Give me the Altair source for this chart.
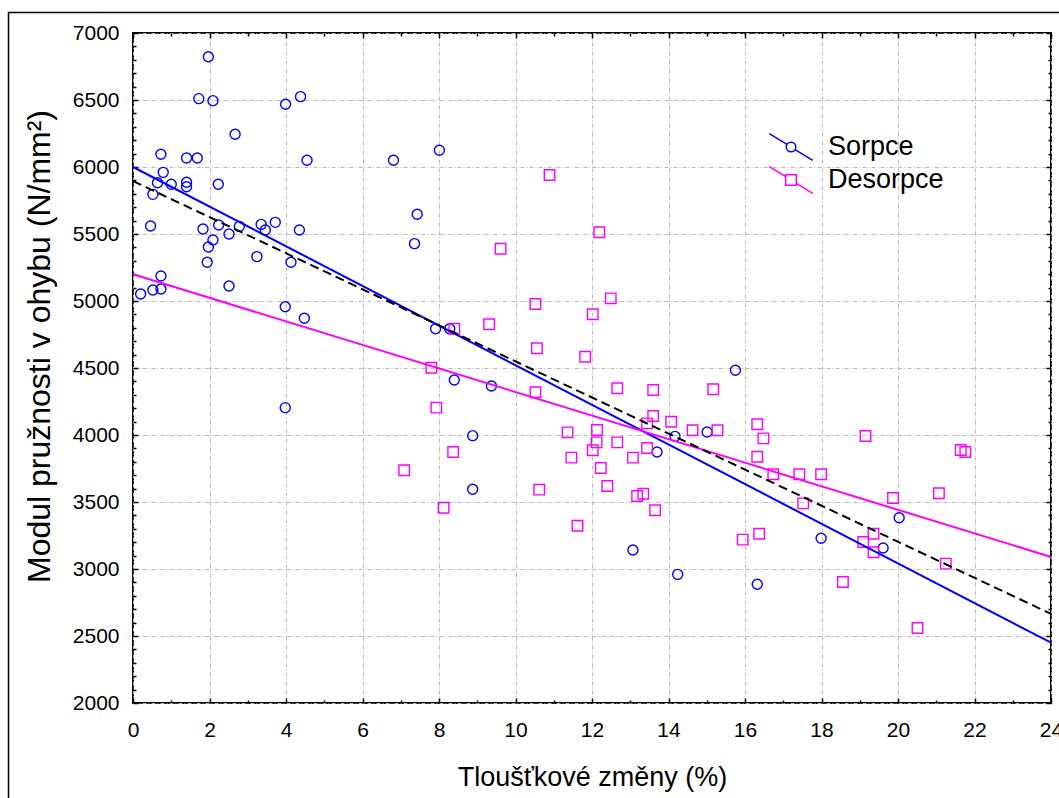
import altair as alt
import pandas as pd

# ---------------- data ----------------
series_names = ["Sorpce", "Desorpce"]

sorpce_x = [0.20, 0.52, 0.73, 0.73, 1.94, 3.24, 4.13, 2.51, 3.98, 4.48,
            7.91, 8.28, 8.40, 3.98, 8.88, 8.88, 1.97, 1.72, 2.09, 3.99,
            4.38, 2.67, 0.73, 1.40, 1.68, 4.55, 6.81, 8.01, 0.79, 0.64,
            1.00, 1.40, 1.40, 2.23, 0.52, 0.46, 1.83, 2.24, 2.78, 2.51,
            2.09, 1.97, 3.35, 3.46, 3.72, 4.35, 7.43, 7.36, 9.37, 15.75,
            13.70, 14.17, 15.01, 13.07, 14.24, 20.03, 17.99, 19.61, 16.32]
sorpce_y = [5052, 5082, 5090, 5187, 5289, 5331, 5289, 5112, 4957, 4871,
            4793, 4793, 4410, 4204, 3995, 3595, 6823, 6510, 6495, 6468,
            6525, 6244, 6095, 6067, 6067, 6050, 6050, 6125, 5960, 5883,
            5871, 5886, 5853, 5871, 5796, 5560, 5537, 5567, 5557, 5500,
            5455, 5403, 5572, 5530, 5587, 5530, 5647, 5428, 4366, 4483,
            3873, 3990, 4022, 3142, 2960, 3383, 3229, 3157, 2886]

desorpce_x = [8.40, 7.80, 7.93, 8.37, 7.09, 8.12, 10.89, 12.19, 9.61, 10.52,
              12.49, 12.02, 9.31, 10.56, 11.82, 10.52, 12.66, 13.60, 15.17, 11.36,
              12.13, 12.12, 12.02, 12.66, 11.46, 12.23, 12.40, 10.62, 11.62, 13.60,
              13.44, 14.07, 14.63, 15.28, 13.44, 13.07, 13.34, 13.18, 13.65, 16.32,
              16.48, 16.32, 19.15, 21.64, 21.76, 16.74, 17.42, 17.99, 17.52, 19.87,
              21.07, 15.94, 16.37, 19.09, 19.36, 19.36, 21.25, 18.56, 20.51]
desorpce_y = [4793, 4502, 4204, 3873, 3737, 3457, 5940, 5513, 5390, 4978,
              5020, 4901, 4826, 4647, 4584, 4319, 4349, 4336, 4341, 4020,
              4037, 3945, 3886, 3945, 3831, 3754, 3619, 3592, 3323, 4142,
              4087, 4099, 4035, 4035, 3903, 3831, 3562, 3545, 3438, 4080,
              3975, 3838, 3993, 3888, 3873, 3707, 3707, 3707, 3490, 3530,
              3565, 3219, 3263, 3201, 3263, 3125, 3040, 2903, 2560]

# fitted lines (end points)
fit_x = [0, 24]
sorpce_fit = [6000, 2450]
desorpce_fit = [5200, 3090]
all_fit = [5895, 2665]

# axis tick values
x_major = [0, 2, 4, 6, 8, 10, 12, 14, 16, 18, 20, 22, 24]
x_minor = [1, 3, 5, 7, 9, 11, 13, 15, 17, 19, 21, 23]
y_major = [2000, 2500, 3000, 3500, 4000, 4500, 5000, 5500, 6000, 6500, 7000]
y_minor = [v for v in range(2100, 7000, 100) if v % 500 != 0]

# ---------------- styling ----------------
FONT = "Liberation Sans"
BLUE = "#0000ff"
MAGENTA = "#ff00ff"
W, H = 918, 670

sorpce_df = pd.DataFrame({"x": sorpce_x, "y": sorpce_y, "series": "Sorpce"})
desorpce_df = pd.DataFrame({"x": desorpce_x, "y": desorpce_y, "series": "Desorpce"})
fit_s_df = pd.DataFrame({"x": fit_x, "y": sorpce_fit})
fit_d_df = pd.DataFrame({"x": fit_x, "y": desorpce_fit})
fit_a_df = pd.DataFrame({"x": fit_x, "y": all_fit})
legend_df = pd.DataFrame({"series": series_names})

xscale = alt.Scale(domain=[0, 24], nice=False, zero=False)
yscale = alt.Scale(domain=[2000, 7000], nice=False, zero=False)

tick_common = dict(domain=False, tickColor="black", tickWidth=1.5, title=None)

x_main_axis = alt.Axis(
    orient="bottom", values=x_major, offset=-5, tickSize=5, tickColor="black",
    tickWidth=1.5, domain=False, grid=True, gridColor="#b8b8b8",
    gridDash=[4, 2, 1, 2], gridWidth=1, labelFont=FONT, labelFontSize=21,
    labelColor="black", labelPadding=16, labelFlush=False, labelOverlap=False,
    format="d",
    title="Tloušťkové změny (%)", titleFont=FONT, titleFontSize=27,
    titleFontWeight="normal", titleColor="black", titleX=W / 2, titleY=87,
    titleBaseline="alphabetic", titleAlign="center")
x_minor_axis = alt.Axis(orient="bottom", values=x_minor, offset=-3, tickSize=3,
                        labels=False, grid=False, **tick_common)
x_top_major = alt.Axis(orient="top", values=x_major, offset=-5, tickSize=5,
                       labels=False, grid=False, **tick_common)
x_top_minor = alt.Axis(orient="top", values=x_minor, offset=-3, tickSize=3,
                       labels=False, grid=False, **tick_common)

y_main_axis = alt.Axis(
    orient="left", values=y_major, offset=-5, tickSize=5, tickColor="black",
    tickWidth=1.5, domain=False, grid=True, gridColor="#b8b8b8",
    gridDash=[4, 2, 1, 2], gridWidth=1, labelFont=FONT, labelFontSize=21,
    labelColor="black", labelPadding=14, labelOverlap=False, labelFlush=False,
    format="d",
    title="Modul pružnosti v ohybu (N/mm²)", titleFont=FONT, titleFontSize=32,
    titleFontWeight="normal", titleColor="black", titleX=-89, titleY=H / 2 - 22,
    titleAngle=270, titleBaseline="alphabetic", titleAlign="center")
y_minor_axis = alt.Axis(orient="left", values=y_minor, offset=-3, tickSize=3,
                        labels=False, grid=False, **tick_common)
y_right_major = alt.Axis(orient="right", values=y_major, offset=-5, tickSize=5,
                         labels=False, grid=False, **tick_common)
y_right_minor = alt.Axis(orient="right", values=y_minor, offset=-3, tickSize=3,
                         labels=False, grid=False, **tick_common)

# figure frame (decoration)
frame = alt.Chart(pd.DataFrame({"a": [0]})).mark_rect(
    filled=False, stroke="black", strokeWidth=1.5
).encode(x=alt.value(-124.5), x2=alt.value(990), y=alt.value(-20.5), y2=alt.value(840))

circles = alt.Chart(sorpce_df).mark_point(
    shape="circle", filled=False, color=BLUE, size=100, strokeWidth=1.4, opacity=1
).encode(
    x=alt.X("x:Q", scale=xscale, axis=x_main_axis),
    y=alt.Y("y:Q", scale=yscale, axis=y_main_axis),
)

squares = alt.Chart(desorpce_df).mark_point(
    shape="square", filled=False, color=MAGENTA, size=110, strokeWidth=1.4, opacity=1
).encode(
    x=alt.X("x:Q", scale=xscale, axis=x_minor_axis),
    y=alt.Y("y:Q", scale=yscale, axis=y_minor_axis),
)

line_s = alt.Chart(fit_s_df).mark_line(color=BLUE, strokeWidth=2).encode(
    x=alt.X("x:Q", scale=xscale, axis=x_top_major),
    y=alt.Y("y:Q", scale=yscale, axis=y_right_major),
)
line_d = alt.Chart(fit_d_df).mark_line(color=MAGENTA, strokeWidth=2).encode(
    x=alt.X("x:Q", scale=xscale, axis=x_top_minor),
    y=alt.Y("y:Q", scale=yscale, axis=y_right_minor),
)
line_a = alt.Chart(fit_a_df).mark_line(
    color="black", strokeWidth=2, strokeDash=[9, 5]
).encode(
    x=alt.X("x:Q", scale=xscale, axis=None),
    y=alt.Y("y:Q", scale=yscale, axis=None),
)

# legend symbols: a slanted line with the marker in the middle
# (unit = sqrt(size)/2 = 15 px, the path reaches +-1.447 units = +-21.7 px)
path_circle = ("M-1.447 -0.897L-0.27 -0.168M0.27 0.168L1.447 0.897"
               "M0.318 0A0.318 0.318 0 1 1 -0.318 0A0.318 0.318 0 1 1 0.318 0Z")
path_square = ("M-1.447 -0.897L-0.355 -0.22M0.355 0.22L1.447 0.897"
               "M-0.355 -0.355L0.355 -0.355L0.355 0.355L-0.355 0.355Z")

legend_def = dict(
    title=None, orient="none", legendX=642, legendY=98, padding=0,
    labelFont=FONT, labelFontSize=27, labelColor="black", labelOffset=21,
    symbolSize=900, symbolStrokeWidth=1.5, rowPadding=-2, labelLimit=300,
)

legend_layer = alt.Chart(legend_df).transform_filter("false").mark_point(
    filled=False, size=900, strokeWidth=1.5, opacity=1
).encode(
    color=alt.Color("series:N", scale=alt.Scale(domain=series_names, range=[BLUE, MAGENTA]),
                    legend=alt.Legend(**legend_def)),
    shape=alt.Shape("series:N", scale=alt.Scale(domain=series_names, range=[path_circle, path_square]),
                    legend=alt.Legend(**legend_def)),
)

chart = alt.layer(
    frame, circles, squares, line_s, line_d, line_a, legend_layer
).resolve_axis(
    x="independent", y="independent"
).properties(
    width=W, height=H,
    padding={"left": 133, "top": 33, "right": 8, "bottom": 95},
    autosize=alt.AutoSizeParams(type="none"),
    background="white",
).configure_view(
    stroke="black", strokeWidth=2, fill="white"
)

chart.save("out.html", embed_options={"renderer": "svg", "actions": False})
